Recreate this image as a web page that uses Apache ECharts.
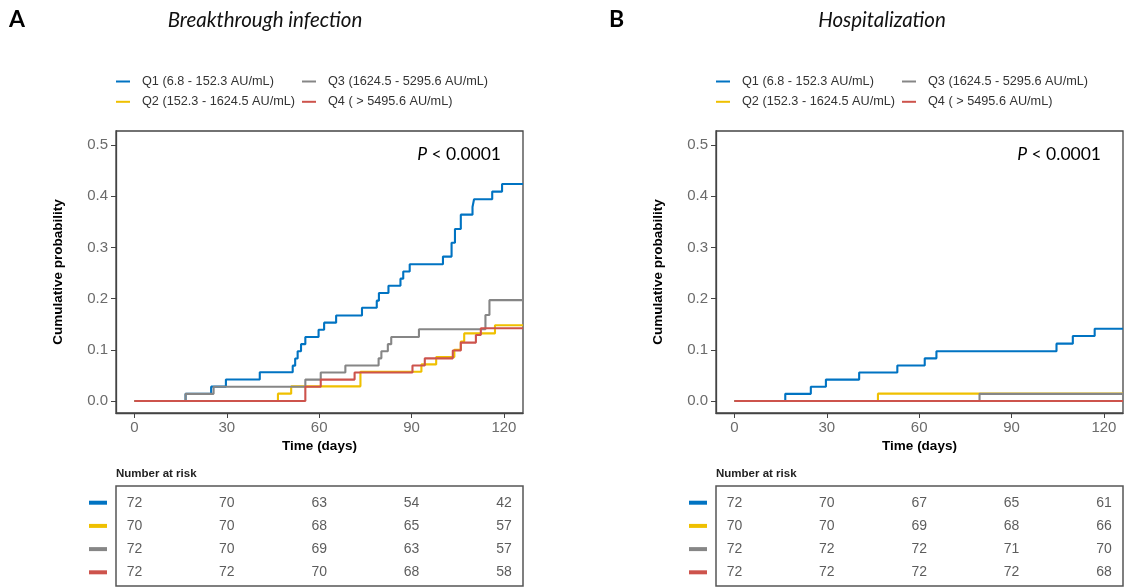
<!DOCTYPE html>
<html>
<head>
<meta charset="utf-8">
<script src="https://cdn.jsdelivr.net/npm/echarts@6/dist/echarts.min.js"></script>
<style>
html,body{margin:0;padding:0;background:#fff;}
#chart{width:1128px;height:588px;}
</style>
</head>
<body>
<div id="chart"></div>
<script>
// ---------- DATA ----------
const groupNames = ['Q1 (6.8 - 152.3 AU/mL)', 'Q2 (152.3 - 1624.5 AU/mL)', 'Q3 (1624.5 - 5295.6 AU/mL)', 'Q4 ( > 5495.6 AU/mL)'];
const groupColors = ['#0073C2', '#EFC000', '#868686', '#CD534C'];
const panelTitles = ['Breakthrough infection', 'Hospitalization'];
const panelLetters = ['A', 'B'];
const pValueText = ['< 0.0001', '< 0.0001'];
const xTicks = [0, 30, 60, 90, 120];
const yTicks = [0, 0.1, 0.2, 0.3, 0.4, 0.5];
const riskTimes = [0, 30, 60, 90, 120];

// Panel A: Breakthrough infection (time in days, cumulative probability)
const infQ1_t = [0, 16.6, 24.9, 29.7, 40.7, 51.4, 52.2, 53.0, 54.1, 55.5, 59.8, 61.6, 65.5, 73.9, 78.7, 79.4, 82.5, 86.4, 87.3, 89.4, 100.2, 103.0, 104.1, 106.0, 109.8, 110.3, 116.2, 119.4, 126.2];
const infQ1_p = [0, 0.014, 0.028, 0.042, 0.056, 0.069, 0.083, 0.097, 0.111, 0.125, 0.139, 0.153, 0.167, 0.182, 0.196, 0.211, 0.225, 0.239, 0.253, 0.267, 0.282, 0.309, 0.336, 0.364, 0.379, 0.394, 0.409, 0.424, 0.424];
const infQ2_t = [0, 46.6, 50.9, 73.4, 93.2, 98.0, 103.9, 106.0, 107.1, 117.1, 126.2];
const infQ2_p = [0, 0.0143, 0.0286, 0.0571, 0.0714, 0.0857, 0.100, 0.116, 0.132, 0.148, 0.148];
const infQ3_t = [0, 16.6, 25.7, 55.5, 60.5, 68.5, 79.3, 80.2, 82.3, 83.4, 92.4, 114.0, 115.3, 126.2];
const infQ3_p = [0, 0.0139, 0.0278, 0.0417, 0.0556, 0.0694, 0.0833, 0.097, 0.111, 0.125, 0.140, 0.168, 0.197, 0.197];
const infQ4_t = [0, 55.5, 60.5, 71.5, 90.3, 94.3, 103.4, 106.0, 110.9, 112.5, 126.2];
const infQ4_p = [0, 0.0278, 0.0417, 0.0556, 0.0694, 0.0833, 0.0985, 0.114, 0.129, 0.142, 0.142];

// Panel B: Hospitalization
const hosQ1_t = [0, 16.5, 24.8, 29.7, 40.5, 52.9, 61.8, 65.6, 104.6, 109.9, 117.0, 126.2];
const hosQ1_p = [0, 0.0139, 0.0278, 0.0417, 0.0556, 0.0694, 0.0833, 0.0972, 0.112, 0.127, 0.141, 0.141];
const hosQ2_t = [0, 46.6, 126.2];
const hosQ2_p = [0, 0.0143, 0.0143];
const hosQ3_t = [0, 79.6, 126.2];
const hosQ3_p = [0, 0.0139, 0.0139];
const hosQ4_t = [0, 126.2];
const hosQ4_p = [0, 0];

// Number at risk
const infRisk = [[72, 70, 63, 54, 42], [70, 70, 68, 65, 57], [72, 70, 69, 63, 57], [72, 72, 70, 68, 58]];
const hosRisk = [[72, 70, 67, 65, 61], [70, 70, 69, 68, 66], [72, 72, 72, 71, 70], [72, 72, 72, 72, 68]];

// ---------- LAYOUT ----------
const X_MIN = -6, X_MAX = 126.2, Y_MIN = -0.0235, Y_MAX = 0.5274;
const panelLeft = [116, 716];
const plotW = 407, plotTop = 131, plotH = 282;
const tabTop = 486, tabH = 100;
const axisCol = '#444';
const tickLabCol = '#6b6b6b';
const sans = 'Liberation Sans, Arial, sans-serif';

const zip = (t, p) => t.map((v, i) => [v, p[i]]);
const curves = [
  [zip(infQ1_t, infQ1_p), zip(infQ2_t, infQ2_p), zip(infQ3_t, infQ3_p), zip(infQ4_t, infQ4_p)],
  [zip(hosQ1_t, hosQ1_p), zip(hosQ2_t, hosQ2_p), zip(hosQ3_t, hosQ3_p), zip(hosQ4_t, hosQ4_p)]
];
const risks = [infRisk, hosRisk];

const grid = [], xAxis = [], yAxis = [], series = [], legend = [], graphic = [];

for (let p = 0; p < 2; p++) {
  const L = panelLeft[p];
  grid.push({left: L, top: plotTop, width: plotW, height: plotH, show: true, borderColor: axisCol, borderWidth: 1.3, backgroundColor: '#fff'});
  grid.push({left: L, top: tabTop, width: plotW, height: tabH, show: true, borderColor: '#555', borderWidth: 1.5, backgroundColor: '#fff'});
  const gPlot = p * 2, gTab = p * 2 + 1;

  xAxis.push({
    gridIndex: gPlot, type: 'value', min: X_MIN, max: X_MAX,
    name: 'Time (days)', nameLocation: 'middle', nameGap: 26,
    nameTextStyle: {fontFamily: sans, fontWeight: 'bold', fontSize: 13.5, color: '#000'},
    axisLine: {show: true, onZero: false, lineStyle: {color: axisCol, width: 1.3}},
    axisTick: {show: true, length: 5, lineStyle: {color: axisCol}, customValues: xTicks},
    axisLabel: {show: true, margin: 7, fontFamily: sans, fontSize: 15, color: tickLabCol, customValues: xTicks, formatter: v => String(v)},
    splitLine: {show: false}
  });
  yAxis.push({
    gridIndex: gPlot, type: 'value', min: Y_MIN, max: Y_MAX,
    name: 'Cumulative probability', nameLocation: 'middle', nameGap: 51,
    nameTextStyle: {fontFamily: sans, fontWeight: 'bold', fontSize: 13.5, color: '#000'},
    axisLine: {show: true, onZero: false, lineStyle: {color: axisCol, width: 1.3}},
    axisTick: {show: true, length: 5, lineStyle: {color: axisCol}, customValues: yTicks},
    axisLabel: {show: true, margin: 8, fontFamily: sans, fontSize: 15, color: tickLabCol, customValues: yTicks, formatter: v => v.toFixed(1)},
    splitLine: {show: false}
  });
  xAxis.push({gridIndex: gTab, type: 'value', min: X_MIN, max: X_MAX, show: false, splitLine: {show: false}});
  yAxis.push({
    gridIndex: gTab, type: 'value', min: 0.28, max: 4.59, inverse: true,
    axisLine: {show: false, onZero: false}, axisTick: {show: false}, splitLine: {show: false},
    axisLabel: {
      show: true, margin: 9, customValues: [1, 2, 3, 4],
      formatter: v => '{s' + v + '|}',
      rich: {
        s1: {width: 18, height: 4, backgroundColor: groupColors[0]},
        s2: {width: 18, height: 4, backgroundColor: groupColors[1]},
        s3: {width: 18, height: 4, backgroundColor: groupColors[2]},
        s4: {width: 18, height: 4, backgroundColor: groupColors[3]}
      }
    }
  });

  for (let g = 0; g < 4; g++) {
    series.push({
      name: groupNames[g], type: 'line', step: 'end',
      xAxisIndex: gPlot, yAxisIndex: gPlot,
      data: curves[p][g], showSymbol: false, symbol: 'none',
      color: groupColors[g],
      lineStyle: {color: groupColors[g], width: 2.1},
      animation: false, silent: true
    });
  }
  const tabData = [];
  for (let g = 0; g < 4; g++) {
    for (let k = 0; k < riskTimes.length; k++) tabData.push([riskTimes[k], g + 1, risks[p][g][k]]);
  }
  series.push({
    name: 'risk' + p, type: 'scatter', xAxisIndex: gTab, yAxisIndex: gTab,
    data: tabData, symbolSize: 1, itemStyle: {color: 'rgba(0,0,0,0)'},
    label: {show: true, position: 'inside', formatter: d => String(d.value[2]), fontFamily: sans, fontSize: 14, color: '#333', align: 'center', verticalAlign: 'middle'},
    animation: false, silent: true
  });

  const legendCommon = {
    orient: 'vertical', top: 74, padding: 0, itemWidth: 14, itemHeight: 2, itemGap: 5.3, icon: 'rect',
    textStyle: {fontFamily: sans, fontSize: 12.7, color: '#333', lineHeight: 15, padding: [0, 0, 0, 7]},
    selectedMode: false
  };
  legend.push(Object.assign({}, legendCommon, {left: L, data: [groupNames[0], groupNames[1]]}));
  legend.push(Object.assign({}, legendCommon, {left: L + 186, data: [groupNames[2], groupNames[3]]}));

  graphic.push({type: 'text', x: L - 107, y: 20, style: {text: panelLetters[p], font: 'bold 23px Lato, sans-serif', fill: '#000', textAlign: 'left', textVerticalAlign: 'middle'}});
  graphic.push({type: 'text', x: L + [149, 166][p], y: 20, style: {text: panelTitles[p], font: 'italic 20.5px Lato, sans-serif', fill: '#111', textAlign: 'center', textVerticalAlign: 'middle'}});
  graphic.push({type: 'text', x: L + plotW - 22, y: 154, style: {text: '{i|P} ' + pValueText[p], font: '17.5px Lato, sans-serif', fill: '#000', textAlign: 'right', textVerticalAlign: 'middle', rich: {i: {fontStyle: 'italic', font: 'italic 17.5px Lato, sans-serif'}}}});
  graphic.push({type: 'text', x: L, y: 474, style: {text: 'Number at risk', font: 'bold 11.5px Liberation Sans, Arial, sans-serif', fill: '#222', textAlign: 'left', textVerticalAlign: 'middle'}});
}

const chart = echarts.init(document.getElementById('chart'), null, {renderer: 'canvas'});
chart.setOption({
  backgroundColor: '#fff',
  animation: false,
  grid, xAxis, yAxis, series, legend, graphic
});
</script>
</body>
</html>
